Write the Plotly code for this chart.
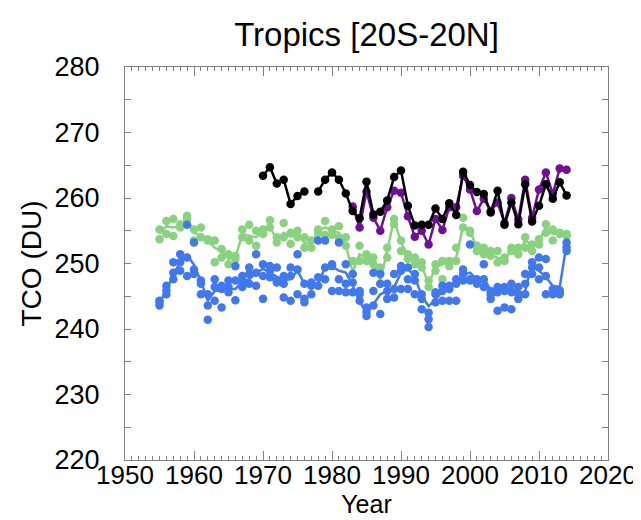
import plotly.graph_objects as go

years = list(range(1955, 2015))

# Blue ensemble members (DU)
blue_a = [244.1, 245.3, 247.6, 248.9, 255.9, 253.2, 247.4, 243.6, 246.4, 246.1,
          247.4, 249.6, 248.1, 248.4, 251.4, 249.9, 249.6, 249.4, 248.1, 249.4,
          251.4, 246.9, 247.1, 253.5, 253.5, 249.6, 253.2, 246.9, 248.4, 245.8,
          242.0, 243.6, 242.3, 245.8, 248.4, 248.9, 249.4, 248.4, 243.0, 241.5,
          244.1, 245.8, 246.1, 246.9, 248.4, 252.9, 247.6, 249.9, 245.8, 242.8,
          243.3, 243.0, 244.6, 248.4, 248.4, 250.9, 250.7, 245.3, 245.3, 253.2]
blue_b = [243.6, 246.6, 248.6, 251.4, 248.1, 249.1, 245.3, 241.4, 247.6, 243.3,
          245.6, 247.4, 246.4, 246.9, 246.6, 248.1, 247.9, 247.4, 246.9, 244.3,
          249.1, 244.6, 245.3, 246.6, 249.4, 245.8, 247.6, 245.6, 247.1, 245.3,
          243.3, 245.8, 246.9, 246.9, 244.8, 246.1, 247.6, 245.3, 244.6, 240.3,
          245.3, 244.3, 246.6, 244.3, 247.4, 247.6, 247.4, 247.6, 245.3, 246.4,
          246.4, 246.9, 245.3, 246.9, 250.2, 247.6, 245.3, 245.6, 245.6, 251.9]
blue_c = [244.3, 245.9, 250.2, 250.2, 250.9, 248.4, 246.9, 245.3, 244.3, 246.6,
          246.4, 244.4, 247.4, 249.4, 248.6, 244.6, 248.9, 247.1, 244.8, 248.1,
          245.3, 244.1, 246.6, 247.9, 247.6, 249.9, 245.8, 249.9, 245.6, 244.3,
          242.6, 248.6, 248.4, 244.6, 246.1, 249.6, 246.1, 247.4, 245.3, 242.5,
          245.6, 246.6, 244.3, 247.6, 249.1, 247.4, 246.9, 246.4, 244.6, 245.6,
          245.8, 245.6, 246.4, 245.3, 249.4, 249.4, 248.1, 246.1, 245.9, 252.5]
blue_line = [243.9, 246.0, 248.0, 250.3, 251.3, 249.8, 247.3, 244.3, 245.8, 246.0,
             246.1, 246.1, 247.3, 247.6, 248.5, 249.2, 248.6, 247.9, 247.4, 247.6,
             248.9, 246.9, 246.4, 246.9, 249.4, 249.6, 248.9, 248.6, 246.6, 244.3,
             242.3, 243.8, 245.3, 245.8, 246.4, 248.6, 249.2, 248.0, 245.0, 243.5,
             244.5, 245.8, 246.4, 247.0, 248.3, 248.6, 247.6, 247.9, 245.8, 246.4,
             245.8, 246.4, 245.3, 245.8, 250.2, 248.9, 247.9, 246.6, 246.4, 253.0]

# Green ensemble members (DU)
green_a = [253.7, 256.5, 256.8, 256.0, 257.3, 255.2, 255.5, 253.7, 253.5, 252.2,
           251.4, 251.2, 255.2, 255.9, 255.0, 255.2, 256.6, 254.0, 256.2, 254.7,
           255.0, 254.0, 253.5, 255.2, 256.5, 255.2, 255.7, 254.0, 250.4, 252.7,
           251.4, 250.9, 246.9, 252.4, 256.8, 253.5, 251.4, 250.9, 250.2, 247.4,
           249.9, 250.4, 250.4, 252.4, 257.0, 255.0, 252.7, 252.4, 251.9, 251.9,
           250.9, 252.4, 252.4, 254.0, 252.9, 253.7, 256.0, 255.2, 254.7, 254.2]
green_b = [255.2, 254.5, 254.2, 255.5, 256.8, 253.5, 254.0, 253.5, 250.2, 250.9,
           249.9, 250.7, 254.0, 253.5, 252.7, 254.5, 255.5, 253.2, 254.0, 253.0,
           254.0, 252.4, 252.4, 254.7, 254.4, 254.4, 254.0, 252.7, 248.4, 250.4,
           250.4, 249.9, 249.4, 250.9, 256.0, 251.9, 250.7, 249.9, 249.4, 246.4,
           248.9, 247.6, 249.6, 250.4, 255.5, 254.7, 251.9, 251.4, 251.2, 250.2,
           250.4, 251.9, 251.4, 252.4, 251.9, 252.9, 254.7, 253.5, 254.5, 254.5]
green_line = [254.6, 255.7, 255.5, 255.7, 256.8, 254.7, 254.2, 253.5, 252.4, 251.9,
              250.7, 250.9, 254.5, 254.2, 254.0, 255.0, 255.5, 253.7, 254.7, 254.1,
              254.4, 253.2, 253.0, 255.0, 255.5, 255.0, 254.7, 252.8, 248.7, 251.4,
              250.9, 250.2, 247.4, 251.9, 256.8, 253.2, 251.2, 250.4, 249.6, 246.9,
              249.4, 249.9, 250.2, 250.9, 255.7, 255.0, 252.4, 251.9, 251.4, 250.9,
              250.7, 251.9, 251.7, 253.5, 252.9, 253.5, 255.5, 254.5, 254.5, 254.2]

# Observations
purple_years = list(range(1983, 2015))
purple_vals = [258.7, 255.5, 261.0, 257.0, 255.0, 258.6, 261.1, 260.8, 257.2, 254.1,
               255.0, 252.9, 256.8, 255.1, 258.6, 258.6, 263.4, 261.3, 258.0, 259.9,
               258.0, 259.3, 256.2, 260.0, 256.7, 262.8, 257.0, 261.3, 263.9, 260.6,
               264.5, 264.3]

black_years = list(range(1970, 2015))
black_vals = [263.4, 264.7, 262.2, 262.8, 259.1, 260.3, 261.0, None, 261.0, 262.8,
              263.9, 262.8, 260.7, 258.0, 256.9, 262.5, 257.5, 257.9, 259.6, 263.2,
              264.2, 258.8, 255.8, 255.9, 255.9, 258.4, 256.8, 259.2, 257.4, 264.0,
              262.0, 260.9, 260.6, 257.8, 261.1, 255.9, 259.3, 256.0, 262.1, 256.4,
              258.8, 262.1, 259.9, 262.4, 260.4]

BLUE = "rgb(66,120,238)"
GREEN = "rgb(138,210,128)"
PURPLE = "rgb(110,16,150)"
BLACK = "black"
MS = 8.5

fig = go.Figure()
for arr in (green_a, green_b):
    fig.add_trace(go.Scatter(x=years, y=arr, mode="markers",
                             marker=dict(color=GREEN, size=MS), showlegend=False))
fig.add_trace(go.Scatter(x=years, y=green_line, mode="lines",
                         line=dict(color=GREEN, width=2.5), showlegend=False))
for arr in (blue_a, blue_b, blue_c):
    fig.add_trace(go.Scatter(x=years, y=arr, mode="markers",
                             marker=dict(color=BLUE, size=MS), showlegend=False))
fig.add_trace(go.Scatter(x=years, y=blue_line, mode="lines",
                         line=dict(color=BLUE, width=2.5), showlegend=False))
fig.add_trace(go.Scatter(x=purple_years, y=purple_vals, mode="lines+markers",
                         line=dict(color=PURPLE, width=2.5),
                         marker=dict(color=PURPLE, size=MS), showlegend=False))
fig.add_trace(go.Scatter(x=black_years, y=black_vals, mode="lines+markers",
                         connectgaps=False,
                         line=dict(color=BLACK, width=2.5),
                         marker=dict(color=BLACK, size=MS), showlegend=False))

FONT = "Liberation Sans, Arial, Helvetica, sans-serif"
AX = "#808080"
fig.update_layout(
    width=641, height=520,
    margin=dict(l=117, r=31, t=59, b=68),
    paper_bgcolor="white", plot_bgcolor="white",
    font=dict(family=FONT, color="black"),
    title=dict(text="Tropics [20S-20N]", x=0.5, xanchor="center",
               xref="paper", y=1, yref="container", yanchor="top",
               pad=dict(t=15),
               font=dict(size=33, family=FONT, color="black")),
    xaxis=dict(range=[1950, 2020], dtick=10, tick0=1950,
               showgrid=False, zeroline=False,
               showline=True, linecolor=AX, linewidth=1, mirror="ticks",
               ticks="inside", ticklen=9, tickcolor=AX, tickwidth=1,
               minor=dict(dtick=1, ticks="inside", ticklen=4, tickcolor=AX, showgrid=False),
               tickfont=dict(size=26, family=FONT, color="black"),
               ticklabelstandoff=-8,
               title=dict(text="Year", font=dict(size=25, family=FONT, color="black"),
                          standoff=0)),
    yaxis=dict(range=[220, 280], dtick=10, tick0=220,
               showgrid=False, zeroline=False,
               showline=True, linecolor=AX, linewidth=1, mirror="ticks",
               ticks="inside", ticklen=6, tickcolor=AX, tickwidth=1,
               minor=dict(dtick=5, ticks="inside", ticklen=6, tickcolor=AX, showgrid=False),
               tickfont=dict(size=27, family=FONT, color="black"),
               ticklabelstandoff=19,
               title=dict(text="TCO (DU)", font=dict(size=28, family=FONT, color="black"),
                          standoff=4)),
)

fig.write_html("out.html")
